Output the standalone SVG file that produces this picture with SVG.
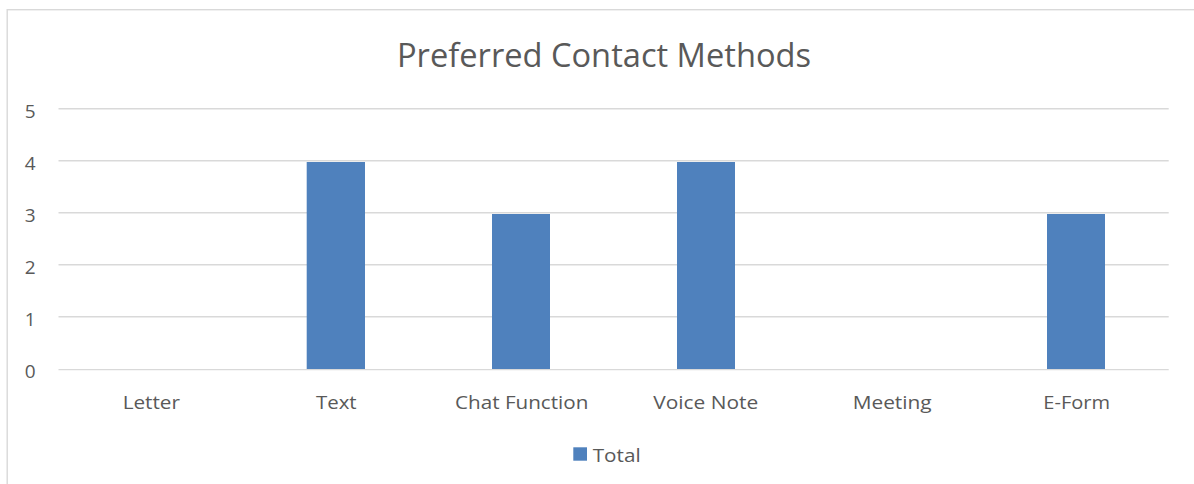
<svg xmlns="http://www.w3.org/2000/svg" width="1194" height="484" viewBox="0 0 1194 484">
  <style>
    .frame { fill: #ffffff; stroke: #d9d9d9; stroke-width: 1.4; }
    .grid { stroke: #d9d9d9; stroke-width: 1.4; fill: none; }
    .bar { fill: #4f81bd; }
    .title { font-family: "Open Sans", "Liberation Sans", sans-serif; font-size: 32px; fill: #595959; text-anchor: middle; }
    .lbl { font-family: "Open Sans", "Liberation Sans", sans-serif; font-size: 19px; fill: #595959; }
    .cat { text-anchor: middle; }
    .val { text-anchor: end; }
  </style>

  <!-- chart area -->
  <rect class="frame" x="7.2" y="9.7" width="1200" height="500"/>

  <text class="title" x="604" y="66.7" textLength="414" lengthAdjust="spacingAndGlyphs">Preferred Contact Methods</text>

  <!-- value axis gridlines -->
  <g id="gridlines">
    <line class="grid" x1="58.5" y1="108.7" x2="1168.7" y2="108.7"/>
    <line class="grid" x1="58.5" y1="160.8" x2="1168.7" y2="160.8"/>
    <line class="grid" x1="58.5" y1="212.8" x2="1168.7" y2="212.8"/>
    <line class="grid" x1="58.5" y1="264.8" x2="1168.7" y2="264.8"/>
    <line class="grid" x1="58.5" y1="316.8" x2="1168.7" y2="316.8"/>
    <line class="grid" x1="58.5" y1="369.6" x2="1168.7" y2="369.6"/>
  </g>

  <!-- value axis labels -->
  <g id="value-axis" class="lbl val">
    <text x="35.5" y="117.7">5</text>
    <text x="35.5" y="169.8">4</text>
    <text x="35.5" y="221.8">3</text>
    <text x="35.5" y="273.8">2</text>
    <text x="35.5" y="325.8">1</text>
    <text x="35.5" y="378.4">0</text>
  </g>

  <!-- data series: Total -->
  <g id="series-total">
    <rect id="bar-text" class="bar" x="306.7" y="162" width="58.3" height="207"/>
    <rect id="bar-chat" class="bar" x="492" y="214" width="58" height="155"/>
    <rect id="bar-voice" class="bar" x="677" y="162" width="58" height="207"/>
    <rect id="bar-eform" class="bar" x="1047" y="214" width="58" height="155"/>
  </g>

  <!-- category axis labels -->
  <g id="category-axis" class="lbl cat">
    <text x="151.3" y="409" textLength="57.3" lengthAdjust="spacingAndGlyphs">Letter</text>
    <text x="336.3" y="409" textLength="40.7" lengthAdjust="spacingAndGlyphs">Text</text>
    <text x="521.7" y="409" textLength="133.3" lengthAdjust="spacingAndGlyphs">Chat Function</text>
    <text x="705.8" y="409" textLength="105" lengthAdjust="spacingAndGlyphs">Voice Note</text>
    <text x="892.2" y="409" textLength="79" lengthAdjust="spacingAndGlyphs">Meeting</text>
    <text x="1076.7" y="409" textLength="66.7" lengthAdjust="spacingAndGlyphs">E-Form</text>
  </g>

  <!-- legend -->
  <g id="legend">
    <rect class="bar" x="573.3" y="447.3" width="13.7" height="13.4"/>
    <text class="lbl" x="592.7" y="461.7" textLength="48" lengthAdjust="spacingAndGlyphs">Total</text>
  </g>
</svg>
